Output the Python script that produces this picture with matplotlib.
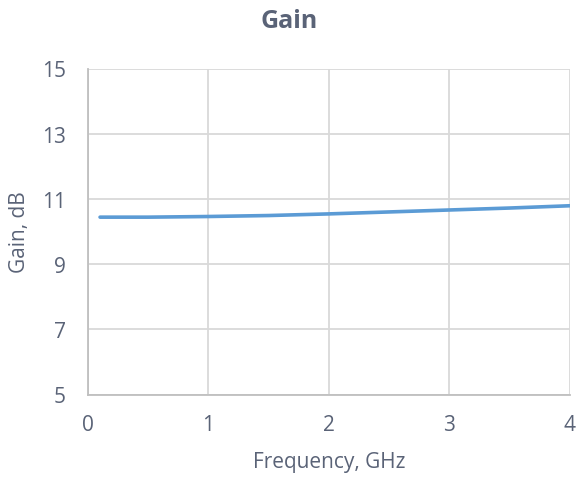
import matplotlib
matplotlib.use("Agg")
import matplotlib.pyplot as plt

freq_ghz = [0.1, 0.5, 1.0, 1.5, 2.0, 2.5, 3.0, 3.5, 4.0]
gain_db = [10.44, 10.44, 10.46, 10.49, 10.54, 10.60, 10.66, 10.72, 10.79]
x_ticks = [0, 1, 2, 3, 4]
y_ticks = [5, 7, 9, 11, 13, 15]

plt.rcParams['font.family'] = ['Open Sans', 'DejaVu Sans']
text_color = '#5A6377'

fig = plt.figure(figsize=(5.77, 4.81), dpi=100)
ax = fig.add_axes([88/577, 1-395.5/481, (570-88)/577, (395.5-69.5)/481])

ax.plot(freq_ghz, gain_db, color='#5B9BD5', lw=2.6, solid_capstyle='round')

ax.set_xlim(0, 4)
ax.set_ylim(5, 15)
ax.set_xticks(x_ticks)
ax.set_yticks(y_ticks)
ax.grid(True, color='#D9D9D9', lw=1.3)
ax.set_axisbelow(True)
ax.tick_params(length=0, labelsize=15, labelcolor=text_color)
ax.tick_params(axis='y', pad=16)
ax.tick_params(axis='x', pad=14)
for s in ['top', 'right']:
    ax.spines[s].set_visible(False)
for s in ['left', 'bottom']:
    ax.spines[s].set_color('#BFBFBF')
    ax.spines[s].set_linewidth(1.3)

fig.text(329/577, 1-463/481, 'Frequency, GHz', ha='center', va='center',
         fontsize=15, color=text_color)
fig.text(19/577, 1-232/481, 'Gain, dB', ha='center', va='center',
         rotation=90, fontsize=15, color=text_color)
fig.text(289/577, 1-21/481, 'Gain', ha='center', va='center', fontsize=18,
         fontweight='bold', color=text_color)

fig.savefig('out.png', dpi=100)
